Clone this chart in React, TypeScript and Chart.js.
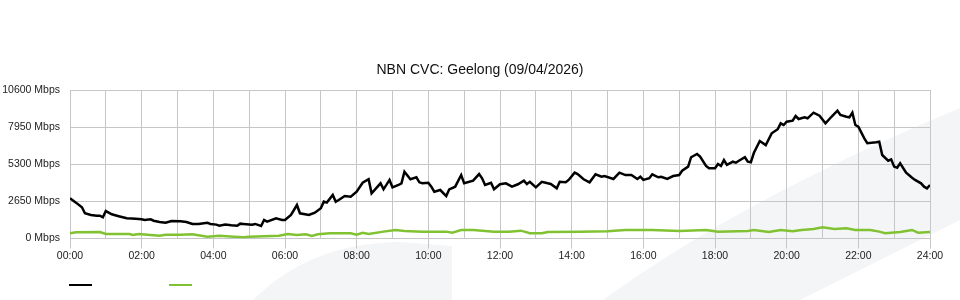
import { useEffect, useRef } from 'react';
import { Chart, registerables } from 'chart.js';

Chart.register(...registerables);

const TITLE = 'NBN CVC: Geelong (09/04/2026)';

const dlTimes = [
  '00:00','00:10','00:20','00:25','00:35','00:45','00:50','00:55','01:00','01:10','01:20','01:35','01:50',
  '02:00','02:05','02:15','02:20','02:30','02:40','02:50','03:05','03:15','03:25','03:35','03:50','03:55',
  '04:05','04:10','04:20','04:30','04:40','04:45','04:50','05:05','05:10','05:20','05:25','05:30','05:45','05:55',
  '06:00','06:10','06:20','06:25','06:40','06:50','07:00','07:05','07:10','07:20','07:25','07:30','07:40','07:50',
  '08:00','08:10','08:20','08:25','08:40','08:45','08:55','09:00','09:10','09:15','09:20','09:30','09:40','09:45','09:50',
  '10:00','10:05','10:10','10:20','10:30','10:35','10:45','10:55','11:00','11:15','11:25','11:30','11:35','11:45','11:50',
  '12:00','12:10','12:20','12:30','12:40','12:45','12:50','13:00','13:10','13:20','13:25','13:35','13:40','13:50','13:55',
  '14:05','14:10','14:20','14:30','14:40','14:50','14:55','15:10','15:20','15:30','15:40','15:50','15:55',
  '16:00','16:10','16:15','16:25','16:30','16:40','16:50','17:00','17:05','17:15','17:20','17:30','17:35','17:45','17:50',
  '18:00','18:05','18:10','18:15','18:20','18:30','18:35','18:40','18:50','18:55','19:00','19:05','19:15','19:25','19:35','19:45','19:50','19:55',
  '20:00','20:10','20:15','20:20','20:30','20:35','20:45','20:55','21:05','21:15','21:25','21:30','21:40','21:45','21:50','21:55',
  '22:00','22:10','22:15','22:30','22:35','22:40','22:50','22:55','23:00','23:05','23:10','23:20','23:30','23:35','23:45','23:50','23:55','24:00',
];
const dlValues = [
  2870,2560,2230,1800,1680,1630,1630,1510,1960,1730,1610,1440,1410,
  1370,1320,1370,1270,1180,1130,1250,1230,1180,1040,1040,1130,1040,
  990,910,990,940,910,1060,1040,990,1040,890,1320,1200,1440,1320,
  1320,1680,2390,1800,1680,1840,2160,2630,2560,3110,2630,2750,3030,2980,
  3340,3980,4230,3230,3940,3510,4180,3650,3820,3940,4770,4230,4370,4010,3940,
  3980,3700,3340,3460,3030,3510,3700,4530,3940,4130,4600,4300,3820,3980,3510,
  3870,3940,3700,3870,4130,3890,4050,3650,4050,3940,3890,3580,4050,4010,4180,
  4700,4600,4230,4010,4580,4410,4460,4250,4700,4530,4530,4250,4410,
  4180,4300,4580,4370,4410,4250,4460,4530,4840,5130,5800,6030,5840,5180,5010,
  5010,5320,5180,5600,5250,5480,5410,5550,5800,5480,5440,6100,6960,6670,7510,7800,8220,8100,
  8340,8410,8740,8530,8650,8580,8980,8770,8220,8690,9120,8820,8690,8650,8980,8100,
  7980,7150,6800,6870,6910,5960,5550,5650,5130,5050,5370,4700,4340,4180,3940,3700,3580,3820,
];

const ulTimes = [
  '00:00','00:10','00:50','01:00','01:40','01:45','01:55','02:30','02:40','03:05','03:25','03:50','04:10','04:35','04:50',
  '05:00','05:50','06:05','06:20','06:35','06:45','06:55','07:15','07:50','08:00','08:10','08:20','08:45','09:05','09:20',
  '09:50','10:30','10:40','10:55','11:15','11:50','12:15','12:35','12:50','13:10','13:20','14:15','15:00','15:30','16:15',
  '17:00','17:45','18:05','18:55','19:05','19:30','19:50','20:10','20:25','20:45','21:00','21:20','21:40','21:55','22:20',
  '22:35','22:45','23:10','23:30','23:40','24:00',
];
const ulValues = [
  370,440,460,320,320,250,320,200,270,270,300,130,200,130,85,
  130,200,320,250,300,180,300,370,370,270,410,320,490,610,540,
  490,490,410,610,610,490,490,560,370,370,460,490,510,610,610,
  540,610,490,540,610,460,610,510,610,680,800,680,730,610,610,
  490,370,460,610,410,460,
];

const yTicks = [0, 2650, 5300, 7950, 10600];

const DL_COLOR = '#000000';
const UL_COLOR = '#80c232';
const GRID = 'rgb(198,198,198)';
const FONT = '"Liberation Sans", Arial, sans-serif';

const toHours = (t: string) => {
  const [h, m] = t.split(':').map(Number);
  return h + m / 60;
};

const watermark = {
  id: 'watermark',
  beforeDraw(chart: any) {
    const ctx = chart.ctx;
    ctx.save();
    ctx.fillStyle = 'rgb(244,245,247)';
    ctx.beginPath();
    ctx.moveTo(253, 300);
    ctx.quadraticCurveTo(310, 243, 400, 242);
    ctx.lineTo(452, 246);
    ctx.lineTo(452, 300);
    ctx.closePath();
    ctx.fill();
    ctx.beginPath();
    ctx.moveTo(603, 300);
    ctx.quadraticCurveTo(740, 200, 960, 108);
    ctx.lineTo(960, 220);
    ctx.lineTo(800, 300);
    ctx.closePath();
    ctx.fill();
    ctx.restore();
  },
};

const lineLegend = {
  id: 'lineLegend',
  afterDraw(chart: any) {
    const ctx = chart.ctx;
    const left = chart.chartArea.left - 1;
    chart.data.datasets.forEach((ds: any, i: number) => {
      ctx.save();
      ctx.strokeStyle = ds.borderColor;
      ctx.lineWidth = 2;
      ctx.beginPath();
      ctx.moveTo(left + i * 100, 285);
      ctx.lineTo(left + i * 100 + 23, 285);
      ctx.stroke();
      ctx.restore();
    });
  },
};

export default function App() {
  const ref = useRef<HTMLCanvasElement>(null);

  useEffect(() => {
    document.body.style.margin = '0';
    const canvas = ref.current!;
    const chart = new Chart(canvas, {
      type: 'line',
      data: {
        datasets: [
          {
            label: '',
            data: dlTimes.map((t, i) => ({ x: toHours(t), y: dlValues[i] })),
            borderColor: DL_COLOR,
            backgroundColor: DL_COLOR,
            borderWidth: 2.5,
            pointRadius: 0,
            tension: 0,
          },
          {
            label: '',
            data: ulTimes.map((t, i) => ({ x: toHours(t), y: ulValues[i] })),
            borderColor: UL_COLOR,
            backgroundColor: UL_COLOR,
            borderWidth: 2.5,
            pointRadius: 0,
            tension: 0,
          },
        ],
      },
      options: {
        animation: false,
        responsive: false,
        devicePixelRatio: 1,
        layout: { padding: { left: 0, right: 0, top: 0, bottom: 31.5 } },
        plugins: {
          legend: { display: false },
          tooltip: { enabled: false },
          title: {
            display: true,
            text: TITLE,
            color: '#111',
            font: { family: FONT, size: 14, weight: 'normal' },
            padding: { top: 62, bottom: 11.2 },
          },
        },
        scales: {
          x: {
            type: 'linear',
            min: 0,
            max: 24,
            afterFit: (s: any) => { s.height = 30; },
            ticks: {
              stepSize: 1,
              autoSkip: false,
              maxRotation: 0,
              padding: 1,
              color: '#222',
              font: { family: FONT, size: 10.5 },
              callback: (v: any) => (Number(v) % 2 === 0 ? `${String(v).padStart(2, '0')}:00` : ''),
            },
            grid: {
              color: GRID,
              lineWidth: 1,
              tickLength: 10,
              tickColor: (ctx: any) => (ctx.tick && ctx.tick.value % 2 === 0 ? GRID : 'rgba(0,0,0,0)'),
            },
            border: { color: GRID },
          },
          y: {
            min: 0,
            max: 10600,
            afterFit: (s: any) => { s.width = 70; },
            afterBuildTicks: (s: any) => { s.ticks = yTicks.map((v) => ({ value: v })); },
            ticks: {
              padding: 10,
              color: '#222',
              font: { family: FONT, size: 10.5 },
              callback: (v: any) => `${v} Mbps`,
            },
            grid: { color: GRID, lineWidth: 1, drawTicks: false },
            border: { color: GRID },
          },
          yRight: {
            position: 'right',
            min: 0,
            max: 10600,
            afterFit: (s: any) => { s.width = 30; },
            ticks: { display: false },
            grid: { display: false, drawTicks: false },
            border: { display: false },
          },
        },
      },
      plugins: [watermark, lineLegend],
    });
    return () => chart.destroy();
  }, []);

  return (
    <div style={{ width: 960, height: 300 }}>
      <canvas ref={ref} width={960} height={300} style={{ display: 'block' }} />
    </div>
  );
}
